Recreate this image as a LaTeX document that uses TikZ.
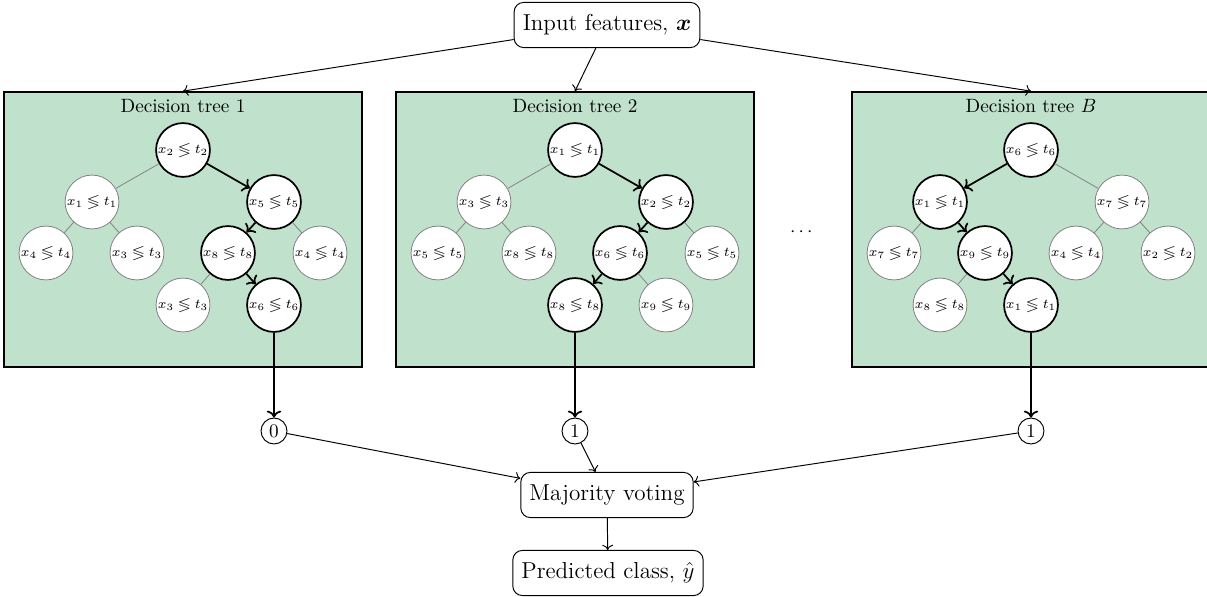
\documentclass[tikz,border=0pt]{standalone}
\usepackage{amsmath,amssymb}
\usetikzlibrary{arrows.meta}
\definecolor{treegreen}{RGB}{192,225,203}
\newcommand{\cmp}[2]{$x_{#1}\mathrel{\lessgtr}t_{#2}$}
\tikzset{
  tn/.style={circle, draw=gray, fill=white, minimum size=28pt, inner sep=0pt, font=\scriptsize},
  tnp/.style={tn, draw=black, line width=0.9pt},
  gedge/.style={draw=gray, line width=0.4pt},
  pedge/.style={->, line width=0.9pt},
  treebox/.style={rectangle, draw=black, line width=0.9pt, fill=treegreen, minimum width=186.2pt, minimum height=143pt, inner sep=0pt},
  rbox/.style={rectangle, rounded corners=5pt, draw=black, line width=0.5pt, fill=white, font=\large, inner xsep=4.5pt, minimum height=23.5pt},
  outc/.style={circle, draw=black, line width=0.5pt, inner sep=1.4pt, minimum size=13.5pt},
  conn/.style={->, line width=0.5pt},
  title/.style={font=\normalsize}
}
\begin{document}
\begin{tikzpicture}[x=0.52pt, y=-0.52pt]
\useasboundingbox (0,0) rectangle (1207,597);
% boxes
\node[treebox] (T1) at (183,229.5) {};
\node[treebox] (T2) at (575,229.5) {};
\node[treebox] (T3) at (1031,229.5) {};
\node[title] (L1) at (183,106) {Decision tree 1};
\node[title] (L2) at (575,106) {Decision tree 2};
\node[title] (L3) at (1031,106) {Decision tree $B$};
% tree 1
\node[tnp] (a1) at (183,150) {\cmp{2}{2}};
\node[tn]  (a2) at (92,202) {\cmp{1}{1}};
\node[tnp] (a3) at (274,202) {\cmp{5}{5}};
\node[tn]  (a4) at (46,253) {\cmp{4}{4}};
\node[tn]  (a5) at (137,253) {\cmp{3}{3}};
\node[tnp] (a6) at (228,253) {\cmp{8}{8}};
\node[tn]  (a7) at (320,253) {\cmp{4}{4}};
\node[tn]  (a8) at (183,305) {\cmp{3}{3}};
\node[tnp] (a9) at (274,305) {\cmp{6}{6}};
\draw[gedge] (a1) -- (a2);
\draw[pedge] (a1) -- (a3);
\draw[gedge] (a2) -- (a4);
\draw[gedge] (a2) -- (a5);
\draw[pedge] (a3) -- (a6);
\draw[gedge] (a3) -- (a7);
\draw[gedge] (a6) -- (a8);
\draw[pedge] (a6) -- (a9);
% tree 2
\node[tnp] (b1) at (575,150) {\cmp{1}{1}};
\node[tn]  (b2) at (484,202) {\cmp{3}{3}};
\node[tnp] (b3) at (666,202) {\cmp{2}{2}};
\node[tn]  (b4) at (438,253) {\cmp{5}{5}};
\node[tn]  (b5) at (529,253) {\cmp{8}{8}};
\node[tnp] (b6) at (620,253) {\cmp{6}{6}};
\node[tn]  (b7) at (712,253) {\cmp{5}{5}};
\node[tnp] (b8) at (575,305) {\cmp{8}{8}};
\node[tn]  (b9) at (666,305) {\cmp{9}{9}};
\draw[gedge] (b1) -- (b2);
\draw[pedge] (b1) -- (b3);
\draw[gedge] (b2) -- (b4);
\draw[gedge] (b2) -- (b5);
\draw[pedge] (b3) -- (b6);
\draw[gedge] (b3) -- (b7);
\draw[pedge] (b6) -- (b8);
\draw[gedge] (b6) -- (b9);
% tree B
\node[tnp] (c1) at (1031,150) {\cmp{6}{6}};
\node[tnp] (c2) at (940,202) {\cmp{1}{1}};
\node[tn]  (c3) at (1122,202) {\cmp{7}{7}};
\node[tn]  (c4) at (894,253) {\cmp{7}{7}};
\node[tnp] (c5) at (985,253) {\cmp{9}{9}};
\node[tn]  (c6) at (1076,253) {\cmp{4}{4}};
\node[tn]  (c7) at (1168,253) {\cmp{2}{2}};
\node[tn]  (c8) at (940,305) {\cmp{8}{8}};
\node[tnp] (c9) at (1031,305) {\cmp{1}{1}};
\draw[pedge] (c1) -- (c2);
\draw[gedge] (c1) -- (c3);
\draw[gedge] (c2) -- (c4);
\draw[pedge] (c2) -- (c5);
\draw[gedge] (c3) -- (c6);
\draw[gedge] (c3) -- (c7);
\draw[gedge] (c5) -- (c8);
\draw[pedge] (c5) -- (c9);
% dots
\node (dots) at (803,232) {$\cdots$};
% input
\node[rbox] (in) at (607,25) {Input features, $\boldsymbol{x}$};
\draw[conn] (in) -- (T1.north);
\draw[conn] (in) -- (T2.north);
\draw[conn] (in) -- (T3.north);
% outputs
\node[outc] (o1) at (274,431) {0};
\node[outc] (o2) at (575,431) {1};
\node[outc] (o3) at (1031,431) {1};
\draw[pedge] (a9) -- (o1);
\draw[pedge] (b8) -- (o2);
\draw[pedge] (c9) -- (o3);
% voting
\node[rbox] (mv) at (607,495) {Majority voting};
\node[rbox] (pc) at (608,573) {Predicted class, $\hat{y}$};
\draw[conn] (o1) -- (mv);
\draw[conn] (o2) -- (mv);
\draw[conn] (o3) -- (mv);
\draw[conn] (mv) -- (pc);
\end{tikzpicture}
\end{document}
